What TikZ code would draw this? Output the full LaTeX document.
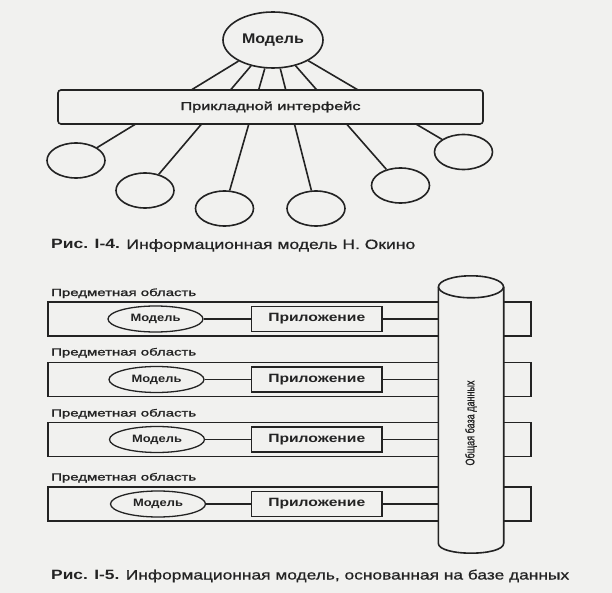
\documentclass[tikz,border=0pt]{standalone}
\usepackage{fontspec}
\setmainfont{Liberation Sans}
\newfontfamily\semib[FakeBold=1.3]{Liberation Sans}
\newfontfamily\lightb[FakeBold=0.7]{Liberation Sans}
\usetikzlibrary{shapes.geometric}
\definecolor{paper}{RGB}{241,241,239}
\definecolor{ink}{RGB}{35,35,35}
\newcommand{\fitw}[2]{\resizebox{#1}{\height}{#2}}
\begin{document}
\begin{tikzpicture}[x=1pt,y=-1pt,
  shape line/.style={draw=ink, line width=1.6pt},
  oval/.style={ellipse, shape line, fill=paper, inner sep=0pt, text=ink},
  smallcirc/.style={oval, minimum width=58pt, minimum height=35pt},
  conn/.style={draw=ink, line width=1.6pt},
  thinconn/.style={draw=ink, line width=1.2pt},
  boxrow/.style={draw=ink, line width=1.3pt, inner sep=0pt, minimum width=483pt, minimum height=34pt},
  appbox/.style={draw=ink, line width=1.3pt, fill=paper, inner sep=0pt, minimum width=130.5pt, minimum height=25pt, text=ink},
  dmodel/.style={ellipse, draw=ink, line width=1.3pt, fill=paper, inner sep=0pt, minimum width=95pt, minimum height=26pt, text=ink},
  lbl/.style={anchor=base west, inner sep=0pt, text=ink}
]
\fill[paper] (0,0) rectangle (612,593);
\useasboundingbox (0,0) rectangle (612,593);

% ---------- Figure I-4 ----------
\node[oval, minimum width=100pt, minimum height=56pt] (model) at (273,40)
  {\fontsize{14}{14}\selectfont\bfseries\fitw{62pt}{Модель}};
\foreach \n/\x/\y in {c1/76/160.5, c2/145/190.5, c3/224.5/208.5, c4/316/208.5, c5/400.5/185.5, c6/463.5/152}
  \node[smallcirc] (\n) at (\x,\y) {};
\foreach \n in {c1,c2,c3,c4,c5,c6}
  \draw[conn] (model) -- (\n);
\node[shape line, fill=paper, rounded corners=3pt, inner sep=0pt,
      minimum width=425pt, minimum height=34pt, text=ink] (api) at (270.5,107)
  {\fontsize{11.5}{12}\semib\fitw{180pt}{Прикладной интерфейс}};
\node[lbl] (cap1) at (51,249)
  {\fontsize{13.5}{14}\selectfont\fitw{364pt}{\textbf{Рис. I-4.} {\lightb Информационная модель Н. Окино}}};

% ---------- Figure I-5 ----------
\foreach \i/\yc/\lb/\mx in {1/319/296/155.5, 2/379.5/355.5/156.5, 3/439.5/416.5/157, 4/504/480.5/158} {
  \node[boxrow] (row\i) at (289.5,\yc) {};
  \node[lbl] (lab\i) at (51,\lb)
    {\fontsize{10.3}{11}\semib\fitw{145pt}{Предметная область}};
  \node[dmodel] (m\i) at (\mx,\yc)
    {\fontsize{10.7}{11}\selectfont\bfseries\fitw{50pt}{Модель}};
  \node[appbox] (a\i) at (316.75,\yc)
    {\fontsize{12}{12}\selectfont\bfseries\fitw{97pt}{Приложение}};
  \draw[thinconn] (m\i) -- (a\i);
}
% cylinder (common database)
\node[inner sep=0pt, minimum width=65pt, minimum height=256pt] (db) at (471,415) {};
\path[fill=paper, draw=ink, line width=1.6pt]
  (db.north west) -- (db.south west)
  .. controls ([yshift=-13.3pt]db.south west) and ([yshift=-13.3pt]db.south east) .. (db.south east)
  -- (db.north east);
\draw[fill=paper, draw=ink, line width=1.6pt] (db.north) ellipse [x radius=32.5pt, y radius=11pt];
\node[rotate=90, inner sep=0pt, text=ink] (dbtext) at (471,423)
  {\fontsize{12.5}{12}\semib\fitw{85pt}{Общая база данных}};
\foreach \i in {1,2,3,4}
  \draw[thinconn] (a\i.east) -- (a\i.east -| db.west);

\node[lbl] (cap2) at (51,579.5)
  {\fontsize{13.5}{14}\selectfont\fitw{518pt}{\textbf{Рис. I-5.} {\lightb Информационная модель, основанная на базе данных}}};
\end{tikzpicture}
\end{document}
